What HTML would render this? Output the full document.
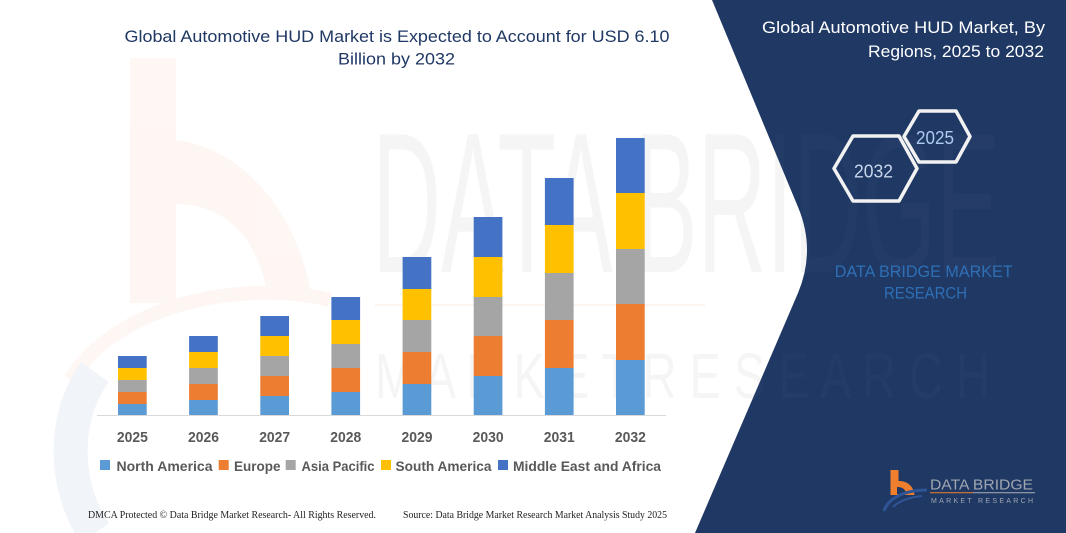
<!DOCTYPE html>
<html><head><meta charset="utf-8"><style>
html,body{margin:0;padding:0;background:#fff;}
svg{display:block;}
text{font-family:"Liberation Sans",sans-serif;}
</style></head><body>
<svg width="1066" height="533" viewBox="0 0 1066 533" xmlns="http://www.w3.org/2000/svg">
<defs>
<clipPath id="navyClip"><path d="M712,0 L798,207 Q816,250 798,293 L695,533 L1066,533 L1066,0 Z"/></clipPath>
</defs>
<rect width="1066" height="533" fill="#fff"/>
<!-- faint left logo watermark -->
<g opacity="0.3">
<rect x="130" y="58" width="46" height="245" fill="#fbe3d6"/>
<path d="M176,140 C250,150 300,220 312,300 L268,300 C262,250 235,205 176,204 Z" fill="#fbe3d6"/>
<path d="M70,380 C120,300 250,280 330,300" fill="none" stroke="#fbe3d6" stroke-width="14"/>
</g>
<path d="M95,372 C60,420 65,490 95,533" fill="none" stroke="#f1f4f9" stroke-width="34"/>
<!-- faint text watermark on white -->
<g fill="#000" opacity="0.035">
<text x="372" y="272" font-size="200" textLength="628" lengthAdjust="spacingAndGlyphs">DATA BRIDGE</text>
<text x="375" y="398" font-size="64" textLength="615" lengthAdjust="spacingAndGlyphs">M A R K E T  R E S E A R C H</text>
</g>
<rect x="375" y="304" width="330" height="2" fill="#fbe3d6" opacity="0.4"/>
<!-- navy panel -->
<path d="M712,0 L798,207 Q816,250 798,293 L695,533 L1066,533 L1066,0 Z" fill="#1f3864"/>
<g clip-path="url(#navyClip)" fill="#fff" opacity="0.018">
<text x="372" y="272" font-size="200" textLength="628" lengthAdjust="spacingAndGlyphs">DATA BRIDGE</text>
<text x="375" y="398" font-size="64" textLength="615" lengthAdjust="spacingAndGlyphs">M A R K E T  R E S E A R C H</text>
</g>

<!-- main title -->
<text x="397" y="42" font-size="17" fill="#1f3864" text-anchor="middle" textLength="545" lengthAdjust="spacingAndGlyphs">Global Automotive HUD Market is Expected to Account for USD 6.10</text>
<text x="396.5" y="64.5" font-size="17" fill="#1f3864" text-anchor="middle" textLength="117" lengthAdjust="spacingAndGlyphs">Billion by 2032</text>

<!-- bars -->
<g>
<rect x="118" y="356" width="28.7" height="12" fill="#4472c4"/>
<rect x="118" y="368" width="28.7" height="12" fill="#ffc000"/>
<rect x="118" y="380" width="28.7" height="12" fill="#a5a5a5"/>
<rect x="118" y="392" width="28.7" height="12" fill="#ed7d31"/>
<rect x="118" y="404" width="28.7" height="11" fill="#5b9bd5"/>
<rect x="189.1" y="336" width="28.7" height="16" fill="#4472c4"/>
<rect x="189.1" y="352" width="28.7" height="16" fill="#ffc000"/>
<rect x="189.1" y="368" width="28.7" height="16" fill="#a5a5a5"/>
<rect x="189.1" y="384" width="28.7" height="16" fill="#ed7d31"/>
<rect x="189.1" y="400" width="28.7" height="15" fill="#5b9bd5"/>
<rect x="260.3" y="316" width="28.7" height="20" fill="#4472c4"/>
<rect x="260.3" y="336" width="28.7" height="20" fill="#ffc000"/>
<rect x="260.3" y="356" width="28.7" height="20" fill="#a5a5a5"/>
<rect x="260.3" y="376" width="28.7" height="20" fill="#ed7d31"/>
<rect x="260.3" y="396" width="28.7" height="19" fill="#5b9bd5"/>
<rect x="331.4" y="297" width="28.7" height="23" fill="#4472c4"/>
<rect x="331.4" y="320" width="28.7" height="24" fill="#ffc000"/>
<rect x="331.4" y="344" width="28.7" height="24" fill="#a5a5a5"/>
<rect x="331.4" y="368" width="28.7" height="24" fill="#ed7d31"/>
<rect x="331.4" y="392" width="28.7" height="23" fill="#5b9bd5"/>
<rect x="402.6" y="257" width="28.7" height="32" fill="#4472c4"/>
<rect x="402.6" y="289" width="28.7" height="31" fill="#ffc000"/>
<rect x="402.6" y="320" width="28.7" height="32" fill="#a5a5a5"/>
<rect x="402.6" y="352" width="28.7" height="32" fill="#ed7d31"/>
<rect x="402.6" y="384" width="28.7" height="31" fill="#5b9bd5"/>
<rect x="473.7" y="217" width="28.7" height="40" fill="#4472c4"/>
<rect x="473.7" y="257" width="28.7" height="40" fill="#ffc000"/>
<rect x="473.7" y="297" width="28.7" height="39" fill="#a5a5a5"/>
<rect x="473.7" y="336" width="28.7" height="40" fill="#ed7d31"/>
<rect x="473.7" y="376" width="28.7" height="39" fill="#5b9bd5"/>
<rect x="544.9" y="178" width="28.7" height="47" fill="#4472c4"/>
<rect x="544.9" y="225" width="28.7" height="48" fill="#ffc000"/>
<rect x="544.9" y="273" width="28.7" height="47" fill="#a5a5a5"/>
<rect x="544.9" y="320" width="28.7" height="48" fill="#ed7d31"/>
<rect x="544.9" y="368" width="28.7" height="47" fill="#5b9bd5"/>
<rect x="616" y="138" width="28.7" height="55" fill="#4472c4"/>
<rect x="616" y="193" width="28.7" height="56" fill="#ffc000"/>
<rect x="616" y="249" width="28.7" height="55" fill="#a5a5a5"/>
<rect x="616" y="304" width="28.7" height="56" fill="#ed7d31"/>
<rect x="616" y="360" width="28.7" height="55" fill="#5b9bd5"/>
</g>
<line x1="97" y1="415.5" x2="666" y2="415.5" stroke="#d9d9d9" stroke-width="1"/>

<!-- year labels -->
<g font-size="15" font-weight="bold" fill="#595959" text-anchor="middle">
<text x="132.4" y="442" textLength="31" lengthAdjust="spacingAndGlyphs">2025</text>
<text x="203.5" y="442" textLength="31" lengthAdjust="spacingAndGlyphs">2026</text>
<text x="274.7" y="442" textLength="31" lengthAdjust="spacingAndGlyphs">2027</text>
<text x="345.8" y="442" textLength="31" lengthAdjust="spacingAndGlyphs">2028</text>
<text x="417" y="442" textLength="31" lengthAdjust="spacingAndGlyphs">2029</text>
<text x="488.1" y="442" textLength="31" lengthAdjust="spacingAndGlyphs">2030</text>
<text x="559.3" y="442" textLength="31" lengthAdjust="spacingAndGlyphs">2031</text>
<text x="630.4" y="442" textLength="31" lengthAdjust="spacingAndGlyphs">2032</text>
</g>

<!-- legend -->
<rect x="100" y="460" width="10" height="10" fill="#5b9bd5"/>
<rect x="218.7" y="460" width="10" height="10" fill="#ed7d31"/>
<rect x="285.7" y="460" width="10" height="10" fill="#a5a5a5"/>
<rect x="381" y="460" width="10" height="10" fill="#ffc000"/>
<rect x="498" y="460" width="10" height="10" fill="#4472c4"/>
<g font-size="14" font-weight="bold" fill="#595959">
<text x="116.5" y="471" textLength="96" lengthAdjust="spacingAndGlyphs">North America</text>
<text x="234" y="471" textLength="46.5" lengthAdjust="spacingAndGlyphs">Europe</text>
<text x="301.5" y="471" textLength="73" lengthAdjust="spacingAndGlyphs">Asia Pacific</text>
<text x="395.5" y="471" textLength="96" lengthAdjust="spacingAndGlyphs">South America</text>
<text x="513" y="471" textLength="148" lengthAdjust="spacingAndGlyphs">Middle East and Africa</text>
</g>

<!-- footer -->
<g font-size="10.5" fill="#222">
<text x="88" y="518" textLength="288" lengthAdjust="spacingAndGlyphs" style="font-family:'Liberation Serif',serif">DMCA Protected © Data Bridge Market Research- All Rights Reserved.</text>
<text x="403" y="518" textLength="264" lengthAdjust="spacingAndGlyphs" style="font-family:'Liberation Serif',serif">Source: Data Bridge Market Research Market Analysis Study 2025</text>
</g>

<!-- right panel title -->
<g font-size="17" fill="#fff" text-anchor="end">
<text x="1045" y="33" textLength="283" lengthAdjust="spacingAndGlyphs">Global Automotive HUD Market, By</text>
<text x="1044" y="57" textLength="176" lengthAdjust="spacingAndGlyphs">Regions, 2025 to 2032</text>
</g>

<!-- hexagons -->
<polygon points="834,168.5 853,136 899,136 917,168.5 899,201 853,201" fill="none" stroke="#f2f2f2" stroke-width="3.5" stroke-linejoin="round"/>
<polygon points="904,136.5 919,111 956,111 970,136.5 956,162 919,162" fill="none" stroke="#f2f2f2" stroke-width="3.5" stroke-linejoin="round"/>
<text x="873.5" y="177.5" font-size="18" fill="#c8d6ea" text-anchor="middle" textLength="39" lengthAdjust="spacingAndGlyphs">2032</text>
<text x="935" y="144" font-size="18" fill="#aecbef" text-anchor="middle" textLength="38" lengthAdjust="spacingAndGlyphs">2025</text>

<!-- DBMR text -->
<text x="923.7" y="277" font-size="17" fill="#2e6fb5" text-anchor="middle" textLength="178" lengthAdjust="spacingAndGlyphs">DATA BRIDGE MARKET</text>
<text x="925.5" y="298.5" font-size="17" fill="#2e6fb5" text-anchor="middle" textLength="83" lengthAdjust="spacingAndGlyphs">RESEARCH</text>

<!-- logo -->
<path d="M890.5,470 h8 v11 c9,0 15,5 16,14 h-24 z" fill="#f07f2d"/>
<path d="M897,487 c6,0 9,3 9,7 h-9 z" fill="#1f3864"/>
<path d="M884,511 C888,498 905,490 927,490" fill="none" stroke="#2f5597" stroke-width="3"/>
<path d="M893,507 C900,500 912,497 922,496" fill="none" stroke="#2f5597" stroke-width="2"/>
<text x="930" y="489.3" font-size="15" fill="#a0a6b0" textLength="103" lengthAdjust="spacingAndGlyphs">DATA BRIDGE</text>
<rect x="930" y="492" width="43" height="1.3" fill="#c0703a"/>
<rect x="973" y="492" width="62" height="1.3" fill="#8c93a0"/>
<text x="931" y="503" font-size="7" fill="#a0a6b0" textLength="102" lengthAdjust="spacing">MARKET RESEARCH</text>
</svg>
</body></html>
